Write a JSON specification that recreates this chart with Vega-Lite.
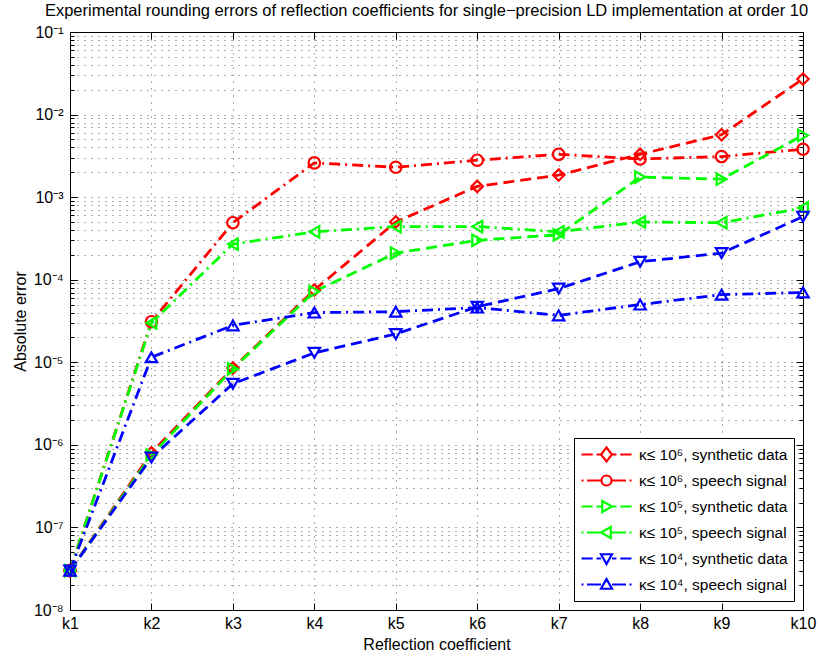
{
  "$schema": "https://vega.github.io/schema/vega-lite/v6.json",
  "autosize": "none",
  "width": 733,
  "height": 578,
  "padding": {"left": 70, "top": 32, "right": 15, "bottom": 47},
  "background": "white",
  "title": {"text": "Experimental rounding errors of reflection coefficients for single\u2212precision LD implementation at order 10", "fontSize": 16.5, "font": "Liberation Sans", "fontWeight": "normal", "anchor": "middle", "offset": 5, "dx": -10, "color": "black"},
  "config": {
    "view": {"stroke": "black", "strokeWidth": 1},
    "axis": {"labelFont": "Liberation Sans", "titleFont": "Liberation Sans", "labelFontSize": 16, "titleFontSize": 16, "titleFontWeight": "normal", "labelColor": "black", "titleColor": "black", "domainColor": "black", "tickColor": "black", "domainWidth": 1}
  },
  "data": {"values": [
    {"k": "k1", "series": "κ≤ 10⁶, synthetic data", "err": 3e-8},
    {"k": "k2", "series": "κ≤ 10⁶, synthetic data", "err": 8e-7},
    {"k": "k3", "series": "κ≤ 10⁶, synthetic data", "err": 8.5e-6},
    {"k": "k4", "series": "κ≤ 10⁶, synthetic data", "err": 7.5e-5},
    {"k": "k5", "series": "κ≤ 10⁶, synthetic data", "err": 5e-4},
    {"k": "k6", "series": "κ≤ 10⁶, synthetic data", "err": 1.35e-3},
    {"k": "k7", "series": "κ≤ 10⁶, synthetic data", "err": 1.85e-3},
    {"k": "k8", "series": "κ≤ 10⁶, synthetic data", "err": 3.3e-3},
    {"k": "k9", "series": "κ≤ 10⁶, synthetic data", "err": 5.7e-3},
    {"k": "k10", "series": "κ≤ 10⁶, synthetic data", "err": 2.7e-2},
    {"k": "k1", "series": "κ≤ 10⁶, speech signal", "err": 3e-8},
    {"k": "k2", "series": "κ≤ 10⁶, speech signal", "err": 3.1e-5},
    {"k": "k3", "series": "κ≤ 10⁶, speech signal", "err": 4.9e-4},
    {"k": "k4", "series": "κ≤ 10⁶, speech signal", "err": 2.6e-3},
    {"k": "k5", "series": "κ≤ 10⁶, speech signal", "err": 2.3e-3},
    {"k": "k6", "series": "κ≤ 10⁶, speech signal", "err": 2.8e-3},
    {"k": "k7", "series": "κ≤ 10⁶, speech signal", "err": 3.3e-3},
    {"k": "k8", "series": "κ≤ 10⁶, speech signal", "err": 2.9e-3},
    {"k": "k9", "series": "κ≤ 10⁶, speech signal", "err": 3.1e-3},
    {"k": "k10", "series": "κ≤ 10⁶, speech signal", "err": 3.8e-3},
    {"k": "k1", "series": "κ≤ 10⁵, synthetic data", "err": 3e-8},
    {"k": "k2", "series": "κ≤ 10⁵, synthetic data", "err": 7.5e-7},
    {"k": "k3", "series": "κ≤ 10⁵, synthetic data", "err": 8.3e-6},
    {"k": "k4", "series": "κ≤ 10⁵, synthetic data", "err": 7.2e-5},
    {"k": "k5", "series": "κ≤ 10⁵, synthetic data", "err": 2.1e-4},
    {"k": "k6", "series": "κ≤ 10⁵, synthetic data", "err": 3.0e-4},
    {"k": "k7", "series": "κ≤ 10⁵, synthetic data", "err": 3.5e-4},
    {"k": "k8", "series": "κ≤ 10⁵, synthetic data", "err": 1.75e-3},
    {"k": "k9", "series": "κ≤ 10⁵, synthetic data", "err": 1.65e-3},
    {"k": "k10", "series": "κ≤ 10⁵, synthetic data", "err": 5.6e-3},
    {"k": "k1", "series": "κ≤ 10⁵, speech signal", "err": 3e-8},
    {"k": "k2", "series": "κ≤ 10⁵, speech signal", "err": 3.0e-5},
    {"k": "k3", "series": "κ≤ 10⁵, speech signal", "err": 2.7e-4},
    {"k": "k4", "series": "κ≤ 10⁵, speech signal", "err": 3.8e-4},
    {"k": "k5", "series": "κ≤ 10⁵, speech signal", "err": 4.4e-4},
    {"k": "k6", "series": "κ≤ 10⁵, speech signal", "err": 4.4e-4},
    {"k": "k7", "series": "κ≤ 10⁵, speech signal", "err": 3.8e-4},
    {"k": "k8", "series": "κ≤ 10⁵, speech signal", "err": 5.0e-4},
    {"k": "k9", "series": "κ≤ 10⁵, speech signal", "err": 4.9e-4},
    {"k": "k10", "series": "κ≤ 10⁵, speech signal", "err": 7.4e-4},
    {"k": "k1", "series": "κ≤ 10⁴, synthetic data", "err": 3e-8},
    {"k": "k2", "series": "κ≤ 10⁴, synthetic data", "err": 7e-7},
    {"k": "k3", "series": "κ≤ 10⁴, synthetic data", "err": 5.5e-6},
    {"k": "k4", "series": "κ≤ 10⁴, synthetic data", "err": 1.3e-5},
    {"k": "k5", "series": "κ≤ 10⁴, synthetic data", "err": 2.2e-5},
    {"k": "k6", "series": "κ≤ 10⁴, synthetic data", "err": 4.7e-5},
    {"k": "k7", "series": "κ≤ 10⁴, synthetic data", "err": 7.8e-5},
    {"k": "k8", "series": "κ≤ 10⁴, synthetic data", "err": 1.65e-4},
    {"k": "k9", "series": "κ≤ 10⁴, synthetic data", "err": 2.1e-4},
    {"k": "k10", "series": "κ≤ 10⁴, synthetic data", "err": 5.8e-4},
    {"k": "k1", "series": "κ≤ 10⁴, speech signal", "err": 3e-8},
    {"k": "k2", "series": "κ≤ 10⁴, speech signal", "err": 1.15e-5},
    {"k": "k3", "series": "κ≤ 10⁴, speech signal", "err": 2.8e-5},
    {"k": "k4", "series": "κ≤ 10⁴, speech signal", "err": 4.0e-5},
    {"k": "k5", "series": "κ≤ 10⁴, speech signal", "err": 4.1e-5},
    {"k": "k6", "series": "κ≤ 10⁴, speech signal", "err": 4.6e-5},
    {"k": "k7", "series": "κ≤ 10⁴, speech signal", "err": 3.7e-5},
    {"k": "k8", "series": "κ≤ 10⁴, speech signal", "err": 5.0e-5},
    {"k": "k9", "series": "κ≤ 10⁴, speech signal", "err": 6.6e-5},
    {"k": "k10", "series": "κ≤ 10⁴, speech signal", "err": 7.0e-5}
  ]},
  "resolve": {"scale": {"shape": "independent", "color": "independent"}, "axis": {"x": "independent", "y": "independent"}},
  "layer": [
    {
      "mark": {"type": "line", "strokeWidth": 2.8},
      "encoding": {
        "x": {"field": "k", "type": "ordinal", "sort": ["k1","k2","k3","k4","k5","k6","k7","k8","k9","k10"],
              "scale": {"type": "point", "padding": 0},
              "axis": {"title": "Reflection coefficient", "labelAngle": 0, "grid": true, "gridDash": [1, 6], "gridColor": "#000", "gridOpacity": 0.65, "tickSize": -7, "labelPadding": 12, "titlePadding": 5}},
        "y": {"field": "err", "type": "quantitative",
              "scale": {"type": "log", "domain": [1e-8, 1e-1], "nice": false},
              "axis": {"title": "Absolute error", "titlePadding": 5, "labelOverlap": false,
                       "values": [1e-8,2e-8,3e-8,4e-8,5e-8,6e-8,7e-8,8e-8,9e-8,1e-7,2e-7,3e-7,4e-7,5e-7,6e-7,7e-7,8e-7,9e-7,1e-6,2e-6,3e-6,4e-6,5e-6,6e-6,7e-6,8e-6,9e-6,1e-5,2e-5,3e-5,4e-5,5e-5,6e-5,7e-5,8e-5,9e-5,1e-4,2e-4,3e-4,4e-4,5e-4,6e-4,7e-4,8e-4,9e-4,1e-3,2e-3,3e-3,4e-3,5e-3,6e-3,7e-3,8e-3,9e-3,1e-2,2e-2,3e-2,4e-2,5e-2,6e-2,7e-2,8e-2,9e-2,1e-1],
                       "labelExpr": "abs(log(datum.value)/LN10 - round(log(datum.value)/LN10)) < 0.001 ? '10\u207b' + ['\u2070','\u00b9','\u00b2','\u00b3','\u2074','\u2075','\u2076','\u2077','\u2078','\u2079'][-round(log(datum.value)/LN10)] : ''",
                       "grid": true, "gridDash": [1, 6], "gridColor": "#000", "gridOpacity": 0.65,
                       "tickSize": {"condition": {"test": "abs(log(datum.value)/LN10 - round(log(datum.value)/LN10)) < 0.001", "value": -7}, "value": -4},
                       "labelPadding": 14}},
        "color": {"field": "series", "type": "nominal", "legend": null,
                  "scale": {"domain": ["κ≤ 10⁶, synthetic data","κ≤ 10⁶, speech signal","κ≤ 10⁵, synthetic data","κ≤ 10⁵, speech signal","κ≤ 10⁴, synthetic data","κ≤ 10⁴, speech signal"],
                            "range": ["#ff0000","#ff0000","#00ff00","#00ff00","#0000ff","#0000ff"]}},
        "strokeDash": {"field": "series", "type": "nominal", "legend": null,
                  "scale": {"domain": ["κ≤ 10⁶, synthetic data","κ≤ 10⁶, speech signal","κ≤ 10⁵, synthetic data","κ≤ 10⁵, speech signal","κ≤ 10⁴, synthetic data","κ≤ 10⁴, speech signal"],
                            "range": [[11,6],[11,5,2,5],[11,6],[11,5,2,5],[11,6],[11,5,2,5]]}}
      }
    },
    {
      "mark": {"type": "point", "filled": false, "strokeWidth": 2.2, "size": 130, "opacity": 1},
      "encoding": {
        "x": {"field": "k", "type": "ordinal", "sort": ["k1","k2","k3","k4","k5","k6","k7","k8","k9","k10"], "axis": null},
        "y": {"field": "err", "type": "quantitative", "axis": null},
        "color": {"field": "series", "type": "nominal", "legend": null,
                  "scale": {"domain": ["κ≤ 10⁶, synthetic data","κ≤ 10⁶, speech signal","κ≤ 10⁵, synthetic data","κ≤ 10⁵, speech signal","κ≤ 10⁴, synthetic data","κ≤ 10⁴, speech signal"],
                            "range": ["#ff0000","#ff0000","#00ff00","#00ff00","#0000ff","#0000ff"]}},
        "shape": {"field": "series", "type": "nominal", "legend": null,
                  "scale": {"domain": ["κ≤ 10⁶, synthetic data","κ≤ 10⁶, speech signal","κ≤ 10⁵, synthetic data","κ≤ 10⁵, speech signal","κ≤ 10⁴, synthetic data","κ≤ 10⁴, speech signal"],
                            "range": ["diamond","circle","triangle-right","triangle-left","triangle-down","triangle-up"]}}
      }
    },
    {
      "transform": [{"filter": "datum.err < 0"}],
      "mark": {"type": "point", "filled": false, "strokeWidth": 2, "opacity": 1},
      "encoding": {
        "x": {"field": "k", "type": "ordinal", "sort": ["k1","k2","k3","k4","k5","k6","k7","k8","k9","k10"], "axis": null},
        "y": {"field": "err", "type": "quantitative", "axis": null},
        "color": {"field": "series", "type": "nominal",
                  "legend": {"title": null, "orient": "bottom-right", "offset": 9, "fillColor": "white", "strokeColor": "black", "padding": 6,
                             "labelFont": "Liberation Sans", "labelFontSize": 15.5, "labelColor": "black", "labelLimit": 400, "labelOffset": 6,
                             "symbolSize": 2500, "symbolStrokeWidth": 2.2, "symbolOpacity": 1, "clipHeight": 21, "rowPadding": 5},
                  "scale": {"domain": ["κ≤ 10⁶, synthetic data","κ≤ 10⁶, speech signal","κ≤ 10⁵, synthetic data","κ≤ 10⁵, speech signal","κ≤ 10⁴, synthetic data","κ≤ 10⁴, speech signal"],
                            "range": ["#ff0000","#ff0000","#00ff00","#00ff00","#0000ff","#0000ff"]}},
        "shape": {"field": "series", "type": "nominal",
                  "legend": {"title": null, "orient": "bottom-right", "offset": 9, "fillColor": "white", "strokeColor": "black", "padding": 6,
                             "labelFont": "Liberation Sans", "labelFontSize": 15.5, "labelColor": "black", "labelLimit": 400, "labelOffset": 6,
                             "symbolSize": 2500, "symbolStrokeWidth": 2.2, "symbolOpacity": 1, "clipHeight": 21, "rowPadding": 5},
                  "scale": {"domain": ["κ≤ 10⁶, synthetic data","κ≤ 10⁶, speech signal","κ≤ 10⁵, synthetic data","κ≤ 10⁵, speech signal","κ≤ 10⁴, synthetic data","κ≤ 10⁴, speech signal"],
                            "range": [
                              "M-1,0H-0.55M-0.4,0H-0.24M0.24,0H0.4M0.55,0H1M0,-0.28L0.22,0L0,0.28L-0.22,0Z",
                              "M-1,0H-0.92M-0.78,0H-0.22M0.22,0H0.78M0.92,0H1M0.2,0A0.2,0.2,0,1,1,-0.2,0A0.2,0.2,0,1,1,0.2,0Z",
                              "M-1,0H-0.55M-0.4,0H-0.2M0.24,0H0.4M0.55,0H1M-0.17,-0.22L0.22,0L-0.17,0.22Z",
                              "M-1,0H-0.92M-0.78,0H-0.24M0.2,0H0.78M0.92,0H1M0.17,-0.22L-0.22,0L0.17,0.22Z",
                              "M-1,0H-0.55M-0.4,0H-0.22M0.22,0H0.4M0.55,0H1M-0.22,-0.17L0.22,-0.17L0,0.22Z",
                              "M-1,0H-0.92M-0.78,0H-0.22M0.22,0H0.78M0.92,0H1M-0.22,0.17L0.22,0.17L0,-0.22Z"
                            ]}}
      }
    },
    {
      "transform": [{"filter": "datum.err < 0"}],
      "mark": {"type": "point", "opacity": 0},
      "encoding": {
        "x": {"field": "k", "type": "ordinal", "sort": ["k1","k2","k3","k4","k5","k6","k7","k8","k9","k10"],
              "axis": {"orient": "top", "labels": false, "title": null, "grid": false, "tickSize": -7}},
        "y": {"field": "err", "type": "quantitative",
              "axis": {"orient": "right", "labels": false, "title": null, "grid": false,
                       "values": [1e-8,2e-8,3e-8,4e-8,5e-8,6e-8,7e-8,8e-8,9e-8,1e-7,2e-7,3e-7,4e-7,5e-7,6e-7,7e-7,8e-7,9e-7,1e-6,2e-6,3e-6,4e-6,5e-6,6e-6,7e-6,8e-6,9e-6,1e-5,2e-5,3e-5,4e-5,5e-5,6e-5,7e-5,8e-5,9e-5,1e-4,2e-4,3e-4,4e-4,5e-4,6e-4,7e-4,8e-4,9e-4,1e-3,2e-3,3e-3,4e-3,5e-3,6e-3,7e-3,8e-3,9e-3,1e-2,2e-2,3e-2,4e-2,5e-2,6e-2,7e-2,8e-2,9e-2,1e-1],
                       "tickSize": {"condition": {"test": "abs(log(datum.value)/LN10 - round(log(datum.value)/LN10)) < 0.001", "value": -7}, "value": -4}}}
      }
    }
  ]
}
